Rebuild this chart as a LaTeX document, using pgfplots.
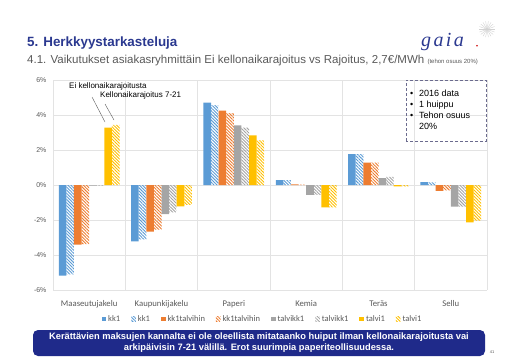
\documentclass[border=0pt]{standalone}
\usepackage{pgfplots}
\pgfplotsset{compat=1.18}
\usepackage{pgfplotstable}
\usetikzlibrary{patterns.meta}
\usepackage{fontspec}
\setmainfont{Liberation Sans}
\newfontfamily\carlito{Carlito}
\newfontfamily\gaiafont[LetterSpace=12]{Liberation Serif}
\definecolor{cA}{HTML}{5B9BD5}
\definecolor{cB}{HTML}{ED7D31}
\definecolor{cC}{HTML}{A5A5A5}
\definecolor{cD}{HTML}{FFC000}
\definecolor{titleblue}{HTML}{2B3990}
\definecolor{boxblue}{HTML}{1F2A8A}
\definecolor{txtgray}{HTML}{595959}
\definecolor{gridgray}{HTML}{E3E3E3}
\definecolor{dashc}{HTML}{6B6B8E}

\pgfplotstableread{
cat kk1 kk1h kkt kkth tk tkh t1 t1h
0 -5.18 -5.11 -3.40 -3.38 -0.04 -0.03 3.28 3.43
1 -3.22 -3.11 -2.66 -2.55 -1.66 -1.56 -1.22 -1.13
2 4.70 4.57 4.25 4.10 3.40 3.28 2.83 2.55
3 0.28 0.28 0.03 0.02 -0.57 -0.57 -1.28 -1.28
4 1.77 1.77 1.28 1.28 0.40 0.47 -0.08 -0.08
5 0.17 0.15 -0.34 -0.30 -1.24 -1.24 -2.13 -2.04
}\datatable

\tikzset{hatch/.style={draw=none, pattern={Lines[angle=-45,distance=2.2pt,line width=0.9pt]}, pattern color=#1}}

\begin{document}
\begin{tikzpicture}[x=1pt,y=1pt]
\path[use as bounding box] (0,0) rectangle (520,360);

% title
\node[anchor=base west, inner sep=0, text=titleblue, font=\fontsize{13.4}{16}\selectfont\bfseries] at (27,313.3) {5. Herkkyystarkasteluja};
\node[anchor=base west, inner sep=0, text=txtgray, font=\fontsize{11.5}{13}\selectfont] at (27,296.7) {4.1. Vaikutukset asiakasryhmittäin Ei kellonaikarajoitus vs Rajoitus, 2,7€/MWh {\fontsize{6}{7}\selectfont (tehon osuus 20\%)}};

% logo
\node[anchor=base west, inner sep=0, text=titleblue, font=\gaiafont\itshape\fontsize{20}{22}\selectfont] at (421,314) {gaia};
\fill[red!80!black] (477,314.3) circle (0.9);
\foreach \a in {0,20,...,340} {\draw[gray!35, line width=0.4pt] (487,330.7) -- ++(\a:8);}

\begin{axis}[
  at={(53pt,70pt)}, anchor=south west,
  scale only axis, width=434pt, height=210pt,
  xmin=-0.5, xmax=5.5, ymin=-6, ymax=6,
  ytick={-6,-4,...,6},
  yticklabel={\pgfmathprintnumber{\tick}\%},
  xtick={0,...,5},
  xticklabels={Maaseutujakelu,Kaupunkijakelu,Paperi,Kemia,Teräs,Sellu},
  minor xtick={-0.5,0.5,...,5.5},
  xminorgrids, ymajorgrids,
  grid style={draw=gridgray, line width=0.5pt},
  minor grid style={draw=gridgray, line width=0.5pt},
  axis line style={draw=none},
  major tick length=0pt, minor tick length=0pt,
  /pgf/number format/assume math mode=true,
  yticklabel style={font=\fontsize{7}{8}\selectfont, text=txtgray, xshift=-3pt},
  xticklabel style={font=\carlito\fontsize{8.7}{10}\selectfont, text=txtgray, yshift=-7pt},
  ybar=0pt, bar width=7.6pt,
  legend columns=8,
  legend style={draw=none, fill=none, at={(0.4816,-0.138)}, anchor=center,
    font=\carlito\fontsize{8.5}{10}\selectfont, text=txtgray,
    nodes={inner sep=1pt},
    /tikz/every odd column/.append style={column sep=1pt},
    /tikz/every even column/.append style={column sep=10pt}},
  legend image code/.code={\draw[#1,draw=none] (0pt,-2.3pt) rectangle (4.6pt,2.3pt);},
]
\addplot[fill=cA, draw=none] table[x=cat,y=kk1] {\datatable};
\addlegendentry{kk1}
\addplot[hatch=cA] table[x=cat,y=kk1h] {\datatable};
\addlegendentry{kk1}
\addplot[fill=cB, draw=none] table[x=cat,y=kkt] {\datatable};
\addlegendentry{kk1talvihin}
\addplot[hatch=cB] table[x=cat,y=kkth] {\datatable};
\addlegendentry{kk1talvihin}
\addplot[fill=cC, draw=none] table[x=cat,y=tk] {\datatable};
\addlegendentry{talvikk1}
\addplot[hatch=cC] table[x=cat,y=tkh] {\datatable};
\addlegendentry{talvikk1}
\addplot[fill=cD, draw=none] table[x=cat,y=t1] {\datatable};
\addlegendentry{talvi1}
\addplot[hatch=cD] table[x=cat,y=t1h] {\datatable};
\addlegendentry{talvi1}
\end{axis}

% annotations
\node[anchor=west, inner sep=0, font=\fontsize{8}{9}\selectfont] at (69,274) {Ei kellonaikarajoitusta};
\node[anchor=west, inner sep=0, font=\fontsize{8}{9}\selectfont] at (100,265) {Kellonaikarajoitus 7-21};
\draw[gray!70!black, line width=0.4pt] (92,263) -- (105,238);
\draw[gray!70!black, line width=0.4pt] (105,256) -- (114,240);

% info box
\draw[dashc, line width=0.9pt, dash pattern=on 3pt off 2pt] (406,219) rectangle (486,280);
\begin{scope}[every node/.style={anchor=base west, inner sep=0, font=\fontsize{9}{10}\selectfont}]
\node at (410,263.5) {•}; \node at (419,263.5) {2016 data};
\node at (410,252.5) {•}; \node at (419,252.5) {1 huippu};
\node at (410,241.5) {•}; \node at (419,241.5) {Tehon osuus};
\node at (419,230.5) {20\%};
\end{scope}

% bottom box
\fill[boxblue, rounded corners=5pt] (33,4) rectangle (485,30);
\node[text=white, align=center, font=\bfseries\fontsize{9.3}{11}\selectfont] at (259,17.2) {Kerättävien maksujen kannalta ei ole oleellista mitataanko huiput ilman kellonaikarajoitusta vai\\arkipäivisin 7-21 välillä. Erot suurimpia paperiteollisuudessa.};
\node[text=txtgray, font=\fontsize{4}{4}\selectfont] at (492,8) {41};
\end{tikzpicture}
\end{document}
